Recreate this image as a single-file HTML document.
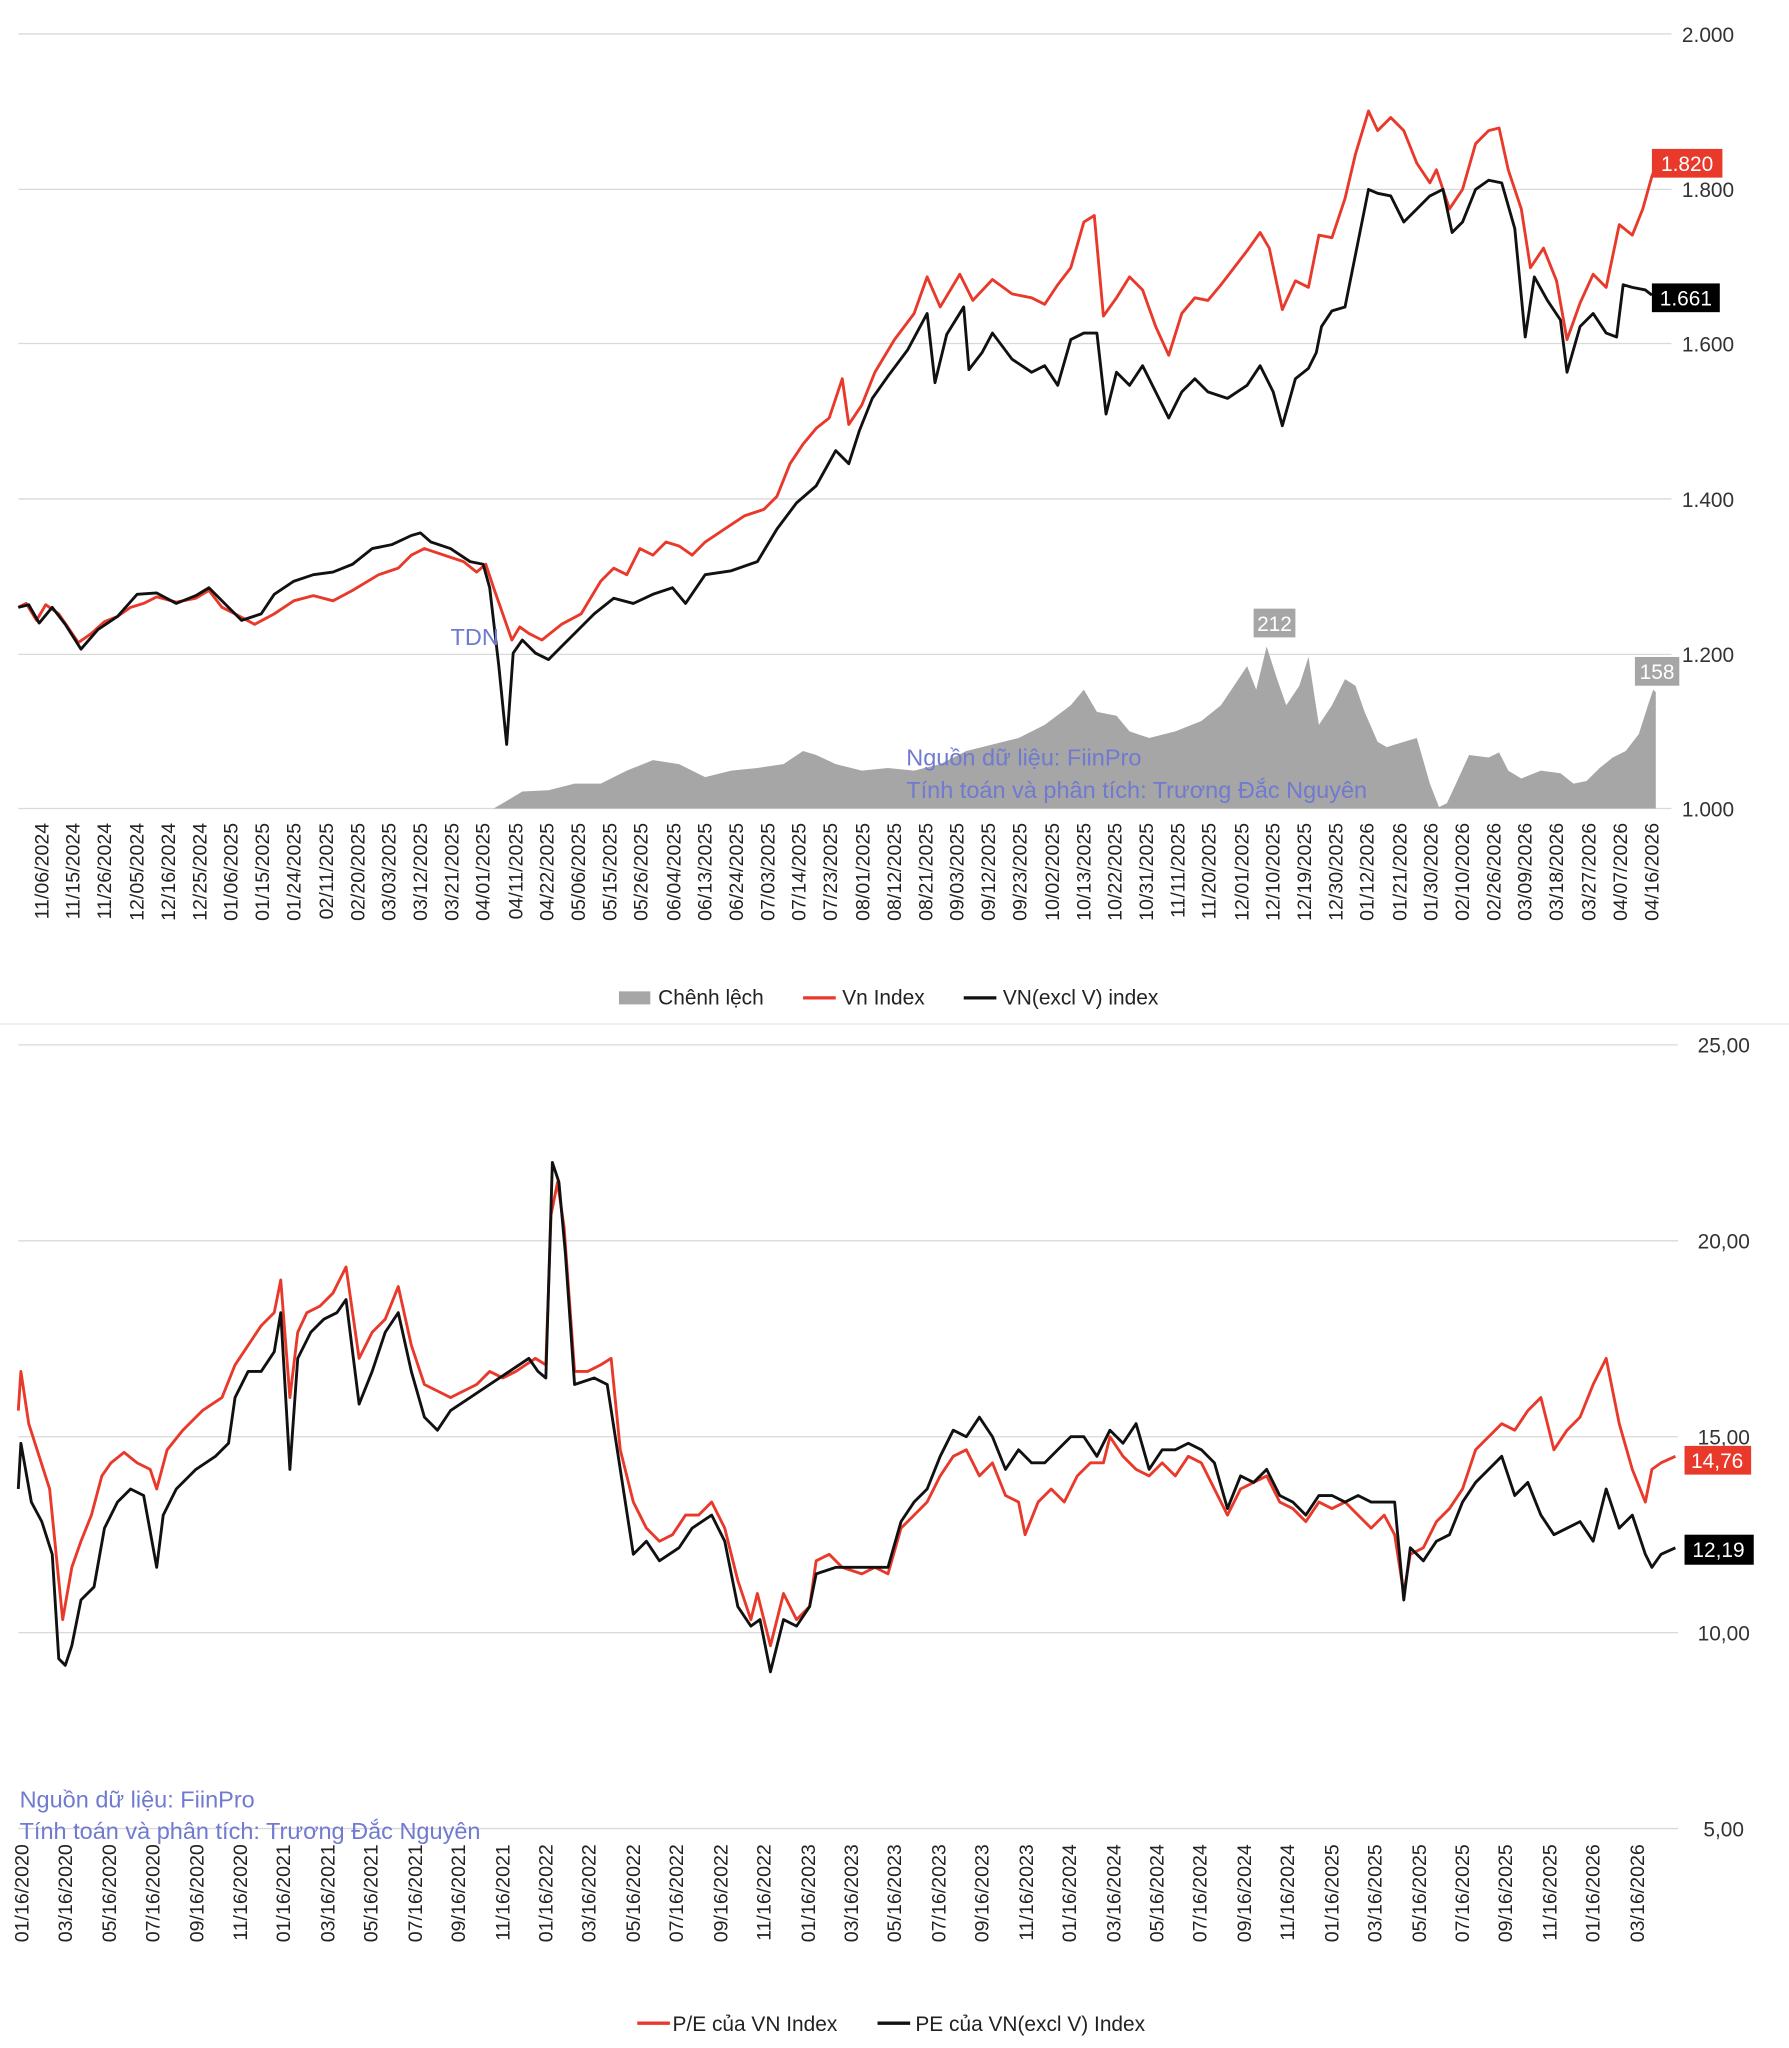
<!DOCTYPE html>
<html><head><meta charset="utf-8"><style>html,body{margin:0;padding:0;background:#fff}svg{display:block}</style></head><body>
<svg width="1789" height="2048" viewBox="0 0 1370 1568" preserveAspectRatio="none" xmlns="http://www.w3.org/2000/svg" font-family="Liberation Sans, DejaVu Sans, sans-serif">
<rect width="1370" height="1568" fill="#fff"/>
<g stroke="#d9d9d9" stroke-width="1">
<line x1="14" y1="26" x2="1280" y2="26"/><line x1="14" y1="145" x2="1280" y2="145"/><line x1="14" y1="263" x2="1280" y2="263"/><line x1="14" y1="382" x2="1280" y2="382"/><line x1="14" y1="501" x2="1280" y2="501"/><line x1="14" y1="619" x2="1280" y2="619"/>
<line x1="14" y1="800" x2="1285" y2="800"/><line x1="14" y1="950" x2="1285" y2="950"/><line x1="14" y1="1100" x2="1285" y2="1100"/><line x1="14" y1="1250" x2="1285" y2="1250"/><line x1="14" y1="1400" x2="1285" y2="1400"/>
</g>
<line x1="0" y1="784" x2="1370" y2="784" stroke="#e6e6e6"/>
<g font-size="16" fill="#333" text-anchor="middle">
<text x="1308" y="32">2.000</text><text x="1308" y="151">1.800</text><text x="1308" y="269">1.600</text><text x="1308" y="388">1.400</text><text x="1308" y="507">1.200</text><text x="1308" y="625">1.000</text>
<text x="1320" y="806">25,00</text><text x="1320" y="956">20,00</text><text x="1320" y="1106">15,00</text><text x="1320" y="1256">10,00</text><text x="1320" y="1406">5,00</text>
</g>
<polygon fill="#a6a6a6" points="378,619 385,615 400,606 420,605 440,600 460,600 480,590 500,582 520,585 540,595 560,590 580,588 600,585 615,575 625,578 640,585 660,590 680,588 700,590 720,585 740,575 760,570 780,565 800,555 820,540 830,528 840,545 855,548 865,560 880,565 900,560 920,552 935,540 945,525 955,510 962,528 970,495 978,520 985,540 995,525 1002,503 1010,555 1020,540 1030,520 1038,525 1045,545 1055,568 1062,572 1075,568 1085,565 1095,600 1102,618 1108,615 1115,600 1125,578 1140,580 1148,576 1155,590 1165,596 1180,590 1195,592 1205,600 1215,598 1225,588 1235,580 1245,575 1255,562 1262,540 1266,528 1268,530 1268,619"/>
<polyline fill="none" stroke="#e8392b" stroke-width="2.2" stroke-linejoin="round" points="14,465 20,462 28,475 35,463 45,470 60,492 70,485 80,476 90,472 100,465 110,462 120,457 135,461 150,458 160,452 170,465 180,470 195,478 210,470 225,460 240,456 255,460 270,452 290,440 305,435 315,425 325,420 340,425 355,430 365,438 372,432 378,450 385,470 392,490 398,480 405,485 415,490 430,478 445,470 460,445 470,435 480,440 490,420 500,425 510,415 520,418 530,425 540,415 555,405 570,395 585,390 595,380 605,355 615,340 625,328 635,320 645,290 650,325 660,310 670,285 685,260 700,240 710,212 720,235 735,210 745,230 760,214 775,225 790,228 800,233 810,218 820,205 830,170 838,165 845,242 855,228 865,212 875,222 885,250 895,272 905,240 915,228 925,230 935,218 945,205 955,192 965,178 972,190 982,237 992,215 1002,220 1010,180 1020,182 1030,152 1038,118 1048,85 1055,100 1065,90 1075,100 1085,125 1095,140 1100,130 1110,160 1120,145 1130,110 1140,100 1148,98 1155,130 1165,160 1172,205 1182,190 1192,215 1200,260 1210,232 1220,210 1230,220 1240,172 1250,180 1258,160 1265,135 1268,127"/>
<polyline fill="none" stroke="#111" stroke-width="2.2" stroke-linejoin="round" points="14,465 22,463 30,477 40,465 50,478 62,497 75,482 90,472 105,455 120,454 135,462 150,456 160,450 175,465 185,475 200,470 210,455 225,445 240,440 255,438 270,432 285,420 300,417 315,410 322,408 330,415 345,420 360,430 370,432 375,450 382,510 388,570 393,500 400,490 410,500 420,505 430,495 440,485 455,470 470,458 485,462 500,455 515,450 525,462 540,440 560,437 580,430 595,405 610,385 625,372 640,345 650,355 658,330 668,305 680,288 695,268 710,240 716,293 725,256 738,235 742,283 752,270 760,255 775,275 790,285 800,280 810,295 820,260 830,255 840,255 847,317 855,285 865,295 875,280 885,300 895,320 905,300 915,290 925,300 940,305 955,295 965,280 975,300 982,326 992,290 1002,282 1008,270 1012,250 1020,238 1030,235 1040,185 1048,145 1055,148 1065,150 1075,170 1085,160 1095,150 1105,145 1112,178 1120,170 1130,145 1140,138 1150,140 1160,175 1168,258 1175,212 1185,230 1195,245 1200,285 1210,250 1220,240 1230,255 1238,258 1243,218 1250,220 1260,222 1265,226"/>
<rect x="960" y="466" width="32" height="22" fill="#a6a6a6"/><text x="976" y="483" font-size="16" fill="#fff" text-anchor="middle">212</text>
<rect x="1252" y="503" width="34" height="22" fill="#a6a6a6"/><text x="1269" y="520" font-size="16" fill="#fff" text-anchor="middle">158</text>
<rect x="1265" y="114" width="54" height="22" fill="#e8392b"/><text x="1292" y="131" font-size="16" fill="#fff" text-anchor="middle">1.820</text>
<rect x="1265" y="217" width="52" height="22" fill="#000"/><text x="1291" y="234" font-size="16" fill="#fff" text-anchor="middle">1.661</text>
<text x="345" y="494" font-size="18" fill="#6f7ad0">TDN</text>
<text x="694" y="586" font-size="18" fill="#6f7ad0">Nguồn dữ liệu: FiinPro</text>
<text x="694" y="611" font-size="18" fill="#6f7ad0">Tính toán và phân tích: Trương Đắc Nguyên</text>
<g font-size="15" fill="#222" text-anchor="end">
<text transform="translate(37,630) rotate(-90)">11/06/2024</text>
<text transform="translate(61,630) rotate(-90)">11/15/2024</text>
<text transform="translate(85,630) rotate(-90)">11/26/2024</text>
<text transform="translate(110,630) rotate(-90)">12/05/2024</text>
<text transform="translate(134,630) rotate(-90)">12/16/2024</text>
<text transform="translate(158,630) rotate(-90)">12/25/2024</text>
<text transform="translate(182,630) rotate(-90)">01/06/2025</text>
<text transform="translate(206,630) rotate(-90)">01/15/2025</text>
<text transform="translate(230,630) rotate(-90)">01/24/2025</text>
<text transform="translate(255,630) rotate(-90)">02/11/2025</text>
<text transform="translate(279,630) rotate(-90)">02/20/2025</text>
<text transform="translate(303,630) rotate(-90)">03/03/2025</text>
<text transform="translate(327,630) rotate(-90)">03/12/2025</text>
<text transform="translate(351,630) rotate(-90)">03/21/2025</text>
<text transform="translate(375,630) rotate(-90)">04/01/2025</text>
<text transform="translate(400,630) rotate(-90)">04/11/2025</text>
<text transform="translate(424,630) rotate(-90)">04/22/2025</text>
<text transform="translate(448,630) rotate(-90)">05/06/2025</text>
<text transform="translate(472,630) rotate(-90)">05/15/2025</text>
<text transform="translate(496,630) rotate(-90)">05/26/2025</text>
<text transform="translate(521,630) rotate(-90)">06/04/2025</text>
<text transform="translate(545,630) rotate(-90)">06/13/2025</text>
<text transform="translate(569,630) rotate(-90)">06/24/2025</text>
<text transform="translate(593,630) rotate(-90)">07/03/2025</text>
<text transform="translate(617,630) rotate(-90)">07/14/2025</text>
<text transform="translate(641,630) rotate(-90)">07/23/2025</text>
<text transform="translate(666,630) rotate(-90)">08/01/2025</text>
<text transform="translate(690,630) rotate(-90)">08/12/2025</text>
<text transform="translate(714,630) rotate(-90)">08/21/2025</text>
<text transform="translate(738,630) rotate(-90)">09/03/2025</text>
<text transform="translate(762,630) rotate(-90)">09/12/2025</text>
<text transform="translate(786,630) rotate(-90)">09/23/2025</text>
<text transform="translate(811,630) rotate(-90)">10/02/2025</text>
<text transform="translate(835,630) rotate(-90)">10/13/2025</text>
<text transform="translate(859,630) rotate(-90)">10/22/2025</text>
<text transform="translate(883,630) rotate(-90)">10/31/2025</text>
<text transform="translate(907,630) rotate(-90)">11/11/2025</text>
<text transform="translate(931,630) rotate(-90)">11/20/2025</text>
<text transform="translate(956,630) rotate(-90)">12/01/2025</text>
<text transform="translate(980,630) rotate(-90)">12/10/2025</text>
<text transform="translate(1004,630) rotate(-90)">12/19/2025</text>
<text transform="translate(1028,630) rotate(-90)">12/30/2025</text>
<text transform="translate(1052,630) rotate(-90)">01/12/2026</text>
<text transform="translate(1077,630) rotate(-90)">01/21/2026</text>
<text transform="translate(1101,630) rotate(-90)">01/30/2026</text>
<text transform="translate(1125,630) rotate(-90)">02/10/2026</text>
<text transform="translate(1149,630) rotate(-90)">02/26/2026</text>
<text transform="translate(1173,630) rotate(-90)">03/09/2026</text>
<text transform="translate(1197,630) rotate(-90)">03/18/2026</text>
<text transform="translate(1222,630) rotate(-90)">03/27/2026</text>
<text transform="translate(1246,630) rotate(-90)">04/07/2026</text>
<text transform="translate(1270,630) rotate(-90)">04/16/2026</text>
</g>
<g font-size="16" fill="#222">
<rect x="474" y="759" width="24" height="10" fill="#a6a6a6"/><text x="504" y="769">Chênh lệch</text>
<line x1="615" y1="764" x2="640" y2="764" stroke="#e8392b" stroke-width="2.5"/><text x="645" y="769">Vn Index</text>
<line x1="738" y1="764" x2="763" y2="764" stroke="#111" stroke-width="2.5"/><text x="768" y="769">VN(excl V) index</text>
</g>
<polyline fill="none" stroke="#e8392b" stroke-width="2.2" stroke-linejoin="round" points="14,1080 16,1050 22,1090 30,1115 38,1140 44,1200 48,1240 55,1200 62,1180 70,1160 78,1130 85,1120 95,1112 105,1120 115,1125 120,1140 128,1110 140,1095 155,1080 170,1070 180,1045 190,1030 200,1015 210,1005 215,980 222,1070 228,1020 235,1005 245,1000 255,990 265,970 275,1040 285,1020 295,1010 305,985 315,1030 325,1060 335,1065 345,1070 355,1065 365,1060 375,1050 385,1055 395,1050 410,1040 418,1045 422,930 427,905 432,940 440,1050 450,1050 460,1045 468,1040 475,1110 485,1150 495,1170 505,1180 515,1175 525,1160 535,1160 545,1150 555,1170 565,1210 575,1240 580,1220 590,1260 600,1220 610,1240 620,1230 625,1195 635,1190 645,1200 660,1205 670,1200 680,1205 690,1170 700,1160 710,1150 720,1130 730,1115 740,1110 750,1130 760,1120 770,1145 780,1150 785,1175 795,1150 805,1140 815,1150 825,1130 835,1120 845,1120 850,1100 860,1115 870,1125 880,1130 890,1120 900,1130 910,1115 920,1120 930,1140 940,1160 950,1140 960,1135 970,1130 980,1150 990,1155 1000,1165 1010,1150 1020,1155 1030,1150 1040,1160 1050,1170 1060,1160 1068,1175 1075,1220 1080,1190 1090,1185 1100,1165 1110,1155 1120,1140 1130,1110 1140,1100 1150,1090 1160,1095 1170,1080 1180,1070 1190,1110 1200,1095 1210,1085 1220,1060 1230,1040 1240,1090 1250,1125 1260,1150 1265,1125 1272,1120 1283,1115"/>
<polyline fill="none" stroke="#111" stroke-width="2.2" stroke-linejoin="round" points="14,1140 16,1105 24,1150 32,1165 40,1190 45,1270 50,1275 55,1260 62,1225 72,1215 80,1170 90,1150 100,1140 110,1145 120,1200 125,1160 135,1140 150,1125 165,1115 175,1105 180,1070 190,1050 200,1050 210,1035 215,1005 222,1125 228,1040 238,1020 248,1010 258,1005 265,995 275,1075 285,1050 295,1020 305,1005 315,1050 325,1085 335,1095 345,1080 360,1070 375,1060 390,1050 405,1040 412,1050 418,1055 423,890 428,905 433,960 440,1060 455,1055 465,1060 475,1125 485,1190 495,1180 505,1195 520,1185 530,1170 545,1160 555,1180 565,1230 575,1245 582,1240 590,1280 600,1240 610,1245 620,1230 625,1205 640,1200 655,1200 670,1200 680,1200 690,1165 700,1150 710,1140 720,1115 730,1095 740,1100 750,1085 760,1100 770,1125 780,1110 790,1120 800,1120 810,1110 820,1100 830,1100 840,1115 850,1095 860,1105 870,1090 880,1125 890,1110 900,1110 910,1105 920,1110 930,1120 940,1155 950,1130 960,1135 970,1125 980,1145 990,1150 1000,1160 1010,1145 1020,1145 1030,1150 1040,1145 1050,1150 1060,1150 1068,1150 1075,1225 1080,1185 1090,1195 1100,1180 1110,1175 1120,1150 1130,1135 1140,1125 1150,1115 1160,1145 1170,1135 1180,1160 1190,1175 1200,1170 1210,1165 1220,1180 1230,1140 1240,1170 1250,1160 1260,1190 1265,1200 1272,1190 1283,1185"/>
<rect x="1290" y="1107" width="51" height="22" fill="#e8392b"/><text x="1315" y="1124" font-size="16" fill="#fff" text-anchor="middle">14,76</text>
<rect x="1290" y="1175" width="53" height="23" fill="#000"/><text x="1316" y="1192" font-size="16" fill="#fff" text-anchor="middle">12,19</text>
<text x="15" y="1384" font-size="18" fill="#6f7ad0">Nguồn dữ liệu: FiinPro</text>
<text x="15" y="1408" font-size="18" fill="#6f7ad0">Tính toán và phân tích: Trương Đắc Nguyên</text>
<g font-size="15" fill="#222" text-anchor="end">
<text transform="translate(22,1412) rotate(-90)">01/16/2020</text><text transform="translate(55,1412) rotate(-90)">03/16/2020</text><text transform="translate(89,1412) rotate(-90)">05/16/2020</text><text transform="translate(122,1412) rotate(-90)">07/16/2020</text><text transform="translate(156,1412) rotate(-90)">09/16/2020</text><text transform="translate(189,1412) rotate(-90)">11/16/2020</text><text transform="translate(222,1412) rotate(-90)">01/16/2021</text><text transform="translate(256,1412) rotate(-90)">03/16/2021</text><text transform="translate(289,1412) rotate(-90)">05/16/2021</text><text transform="translate(323,1412) rotate(-90)">07/16/2021</text><text transform="translate(356,1412) rotate(-90)">09/16/2021</text><text transform="translate(390,1412) rotate(-90)">11/16/2021</text><text transform="translate(423,1412) rotate(-90)">01/16/2022</text><text transform="translate(456,1412) rotate(-90)">03/16/2022</text><text transform="translate(490,1412) rotate(-90)">05/16/2022</text><text transform="translate(523,1412) rotate(-90)">07/16/2022</text><text transform="translate(557,1412) rotate(-90)">09/16/2022</text><text transform="translate(590,1412) rotate(-90)">11/16/2022</text><text transform="translate(624,1412) rotate(-90)">01/16/2023</text><text transform="translate(657,1412) rotate(-90)">03/16/2023</text><text transform="translate(690,1412) rotate(-90)">05/16/2023</text><text transform="translate(724,1412) rotate(-90)">07/16/2023</text><text transform="translate(757,1412) rotate(-90)">09/16/2023</text><text transform="translate(791,1412) rotate(-90)">11/16/2023</text><text transform="translate(824,1412) rotate(-90)">01/16/2024</text><text transform="translate(858,1412) rotate(-90)">03/16/2024</text><text transform="translate(891,1412) rotate(-90)">05/16/2024</text><text transform="translate(924,1412) rotate(-90)">07/16/2024</text><text transform="translate(958,1412) rotate(-90)">09/16/2024</text><text transform="translate(991,1412) rotate(-90)">11/16/2024</text><text transform="translate(1025,1412) rotate(-90)">01/16/2025</text><text transform="translate(1058,1412) rotate(-90)">03/16/2025</text><text transform="translate(1092,1412) rotate(-90)">05/16/2025</text><text transform="translate(1125,1412) rotate(-90)">07/16/2025</text><text transform="translate(1158,1412) rotate(-90)">09/16/2025</text><text transform="translate(1192,1412) rotate(-90)">11/16/2025</text><text transform="translate(1225,1412) rotate(-90)">01/16/2026</text><text transform="translate(1259,1412) rotate(-90)">03/16/2026</text>
</g>
<g font-size="16" fill="#222">
<line x1="488" y1="1549" x2="513" y2="1549" stroke="#e8392b" stroke-width="2.5"/><text x="515" y="1555">P/E của VN Index</text>
<line x1="672" y1="1549" x2="697" y2="1549" stroke="#111" stroke-width="2.5"/><text x="701" y="1555">PE của VN(excl V) Index</text>
</g>
</svg>
</body></html>
